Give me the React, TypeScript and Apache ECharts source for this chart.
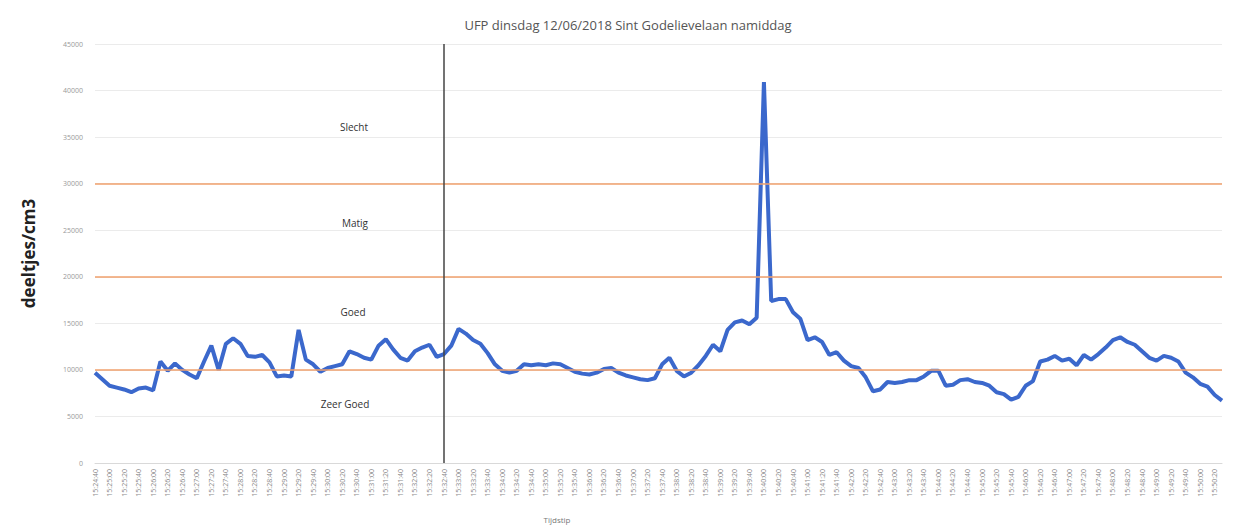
import { useEffect, useRef } from "react";
import * as echarts from "echarts";

const chartTitle = "UFP dinsdag 12/06/2018 Sint Godelievelaan namiddag";
const yAxisName = "deeltjes/cm3";
const xAxisName = "Tijdstip";

// threshold lines (deeltjes/cm3)
const thresholds = [10000, 20000, 30000];
// zone names, top to bottom
const zoneNames = ["Slecht", "Matig", "Goed", "Zeer Goed"];
// index of the sample marked with the vertical line
const markerIndex = 48;

// start of the measurement and step between samples (seconds)
const startTime = "15:24:40";
const stepSeconds = 10;

// UFP concentration (deeltjes/cm3)
const ufp = [
  9700, 9000, 8300, 8100, 7900, 7600, 8000, 8100, 7800, 10900,
  9900, 10700, 10000, 9500, 9100, 10900, 12600, 10000, 12800, 13400,
  12800, 11500, 11400, 11600, 10800, 9300, 9400, 9300, 14300, 11100,
  10600, 9800, 10200, 10400, 10600, 12000, 11700, 11300, 11100, 12600,
  13300, 12200, 11300, 11000, 12000, 12400, 12700, 11400, 11700, 12600,
  14400, 13900, 13200, 12800, 11800, 10600, 9900, 9700, 9900, 10600,
  10500, 10600, 10500, 10700, 10600, 10200, 9800, 9600, 9500, 9700,
  10100, 10200, 9700, 9400, 9200, 9000, 8900, 9100, 10600, 11300,
  9900, 9300, 9700, 10500, 11500, 12700, 12000, 14300, 15100, 15300,
  14900, 15600, 40900, 17400, 17600, 17600, 16200, 15500, 13200, 13500,
  13000, 11600, 11900, 11000, 10400, 10200, 9200, 7700, 7900, 8700,
  8600, 8700, 8900, 8900, 9300, 9900, 9900, 8300, 8400, 8900,
  9000, 8700, 8600, 8300, 7600, 7400, 6800, 7100, 8300, 8800,
  10900, 11100, 11500, 11000, 11200, 10500, 11600, 11100, 11700, 12400,
  13200, 13500, 13000, 12700, 12000, 11300, 11000, 11500, 11300, 10900,
  9700, 9200, 8500, 8200, 7300, 6700,
];

function buildTimeLabels(start: string, step: number, count: number): string[] {
  const [h, m, s] = start.split(":").map(Number);
  const base = h * 3600 + m * 60 + s;
  const pad = (n: number) => String(n).padStart(2, "0");
  const out: string[] = [];
  for (let i = 0; i < count; i++) {
    const t = base + i * step;
    out.push(`${pad(Math.floor(t / 3600))}:${pad(Math.floor((t % 3600) / 60))}:${pad(t % 60)}`);
  }
  return out;
}

const timeLabels = buildTimeLabels(startTime, stepSeconds, ufp.length);

export default function App() {
  const ref = useRef<HTMLDivElement>(null);
  useEffect(() => {
    if (!ref.current) return;
    const chart = echarts.init(ref.current, null, { renderer: "svg" });
    const zonePos = [
      [354, 127],
      [355, 223],
      [353, 312],
      [345, 404],
    ];
    chart.setOption({
      animation: false,
      backgroundColor: "#ffffff",
      title: {
        text: chartTitle,
        left: 623,
        top: 13,
        textAlign: "center",
        textStyle: {
          fontFamily: "Open Sans",
          fontSize: 13,
          fontWeight: "normal",
          color: "#555555",
        },
      },
      grid: { left: 95, right: 15, top: 44, bottom: 62 },
      xAxis: {
        type: "category",
        data: timeLabels,
        boundaryGap: false,
        axisLine: { lineStyle: { color: "#d9d9d9" } },
        axisTick: { show: false },
        axisLabel: {
          rotate: 90,
          interval: 1,
          fontSize: 7,
          color: "#8a8a8a",
          margin: 6,
          fontFamily: "Open Sans",
        },
        splitLine: { show: false },
      },
      yAxis: {
        type: "value",
        min: 0,
        max: 45000,
        interval: 5000,
        name: yAxisName,
        nameLocation: "middle",
        nameGap: 58,
        nameTextStyle: {
          fontFamily: "Open Sans",
          fontSize: 17,
          fontWeight: "bold",
          color: "#222222",
        },
        axisLine: { show: false },
        axisTick: { show: false },
        axisLabel: {
          fontSize: 7,
          color: "#9a9a9a",
          margin: 12,
          fontFamily: "Open Sans",
          formatter: (v: number) => String(v),
        },
        splitLine: { lineStyle: { color: "#ebebeb", width: 1 } },
      },
      series: [
        {
          type: "line",
          data: ufp,
          symbol: "none",
          lineStyle: { color: "#3b68cc", width: 4 },
          itemStyle: { color: "#3b68cc" },
          z: 3,
          markLine: {
            silent: true,
            symbol: "none",
            label: { show: false },
            data: [
              ...thresholds.map((v) => ({
                yAxis: v,
                lineStyle: { color: "#f0a06c", width: 1.5, type: "solid" },
              })),
              {
                xAxis: markerIndex,
                lineStyle: { color: "#444444", width: 1.5, type: "solid" },
              },
            ],
          },
        },
      ],
      graphic: [
        ...zoneNames.map((name, i) => ({
          type: "text",
          x: zonePos[i][0],
          y: zonePos[i][1],
          style: {
            text: name,
            fontFamily: "Open Sans",
            fontSize: 10,
            fill: "#333333",
            align: "center",
            verticalAlign: "middle",
          },
        })),
        {
          type: "text",
          x: 557,
          y: 519,
          style: {
            text: xAxisName,
            fontFamily: "Open Sans",
            fontSize: 8,
            fill: "#777777",
            align: "center",
            verticalAlign: "middle",
          },
        },
      ],
    });
    return () => chart.dispose();
  }, []);
  return (
    <div
      ref={ref}
      style={{ position: "fixed", left: 0, top: 0, width: 1237, height: 525 }}
    />
  );
}
